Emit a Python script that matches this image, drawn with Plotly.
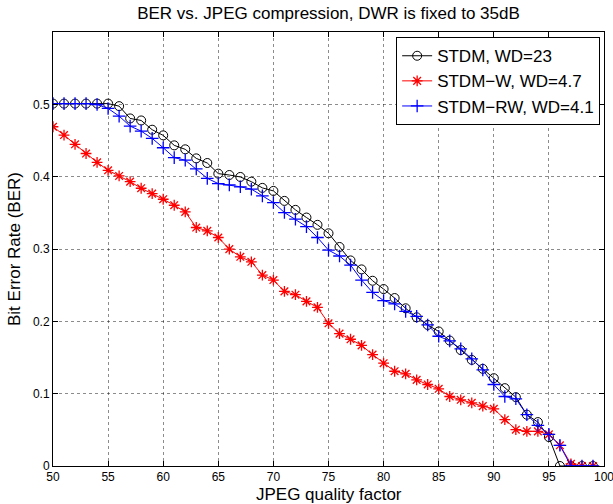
import plotly.graph_objects as go

quality = list(range(50, 100))

ber_stdm = [0.501, 0.501, 0.501, 0.501, 0.501, 0.501, 0.4975, 0.4805, 0.4777, 0.4649,
            0.4571, 0.4433, 0.4378, 0.4253, 0.4189, 0.4042, 0.4023, 0.3996, 0.3931, 0.3845,
            0.3803, 0.3665, 0.3541, 0.3435, 0.3334, 0.3217, 0.3028, 0.2842, 0.2718, 0.2561,
            0.2446, 0.2322, 0.2180, 0.2056, 0.1950, 0.1860, 0.1734, 0.1603, 0.1467, 0.1343,
            0.1214, 0.1076, 0.0952, 0.0709, 0.0607, 0.0400, 0.0, 0.0, 0.0, 0.0]

ber_stdm_w = [0.469, 0.4575, 0.4447, 0.432, 0.4198, 0.4088, 0.401, 0.3931, 0.384, 0.3766,
              0.3688, 0.3605, 0.3513, 0.3297, 0.3251, 0.3159, 0.2998, 0.2892, 0.2823, 0.2640,
              0.2571, 0.2414, 0.2368, 0.2276, 0.2193, 0.1973, 0.1830, 0.1752, 0.1668, 0.1541,
              0.1421, 0.1310, 0.1274, 0.1191, 0.1127, 0.1067, 0.0961, 0.0915, 0.0874, 0.0828,
              0.0791, 0.0640, 0.0502, 0.0479, 0.0479, 0.0437, 0.0286, 0.003, 0.0, 0.0]

ber_stdm_rw = [0.501, 0.501, 0.501, 0.501, 0.4998, 0.4943, 0.4837, 0.4699, 0.463, 0.4529,
               0.4400, 0.4263, 0.4228, 0.4108, 0.3977, 0.3904, 0.3886, 0.3860, 0.3828, 0.3734,
               0.3642, 0.3504, 0.3412, 0.3310, 0.3159, 0.2984, 0.2903, 0.2777, 0.2571, 0.2400,
               0.2286, 0.2240, 0.2138, 0.2069, 0.1950, 0.1794, 0.1730, 0.1619, 0.1481, 0.1329,
               0.1127, 0.0961, 0.0929, 0.0709, 0.0561, 0.0437, 0.0286, 0.0, 0.0, 0.0]

x_ticks = [50, 55, 60, 65, 70, 75, 80, 85, 90, 95, 100]
y_ticks = [0, 0.1, 0.2, 0.3, 0.4, 0.5]
y_tick_text = ["0", "0.1", "0.2", "0.3", "0.4", "0.5"]

FONT = "Liberation Sans, Arial, Helvetica, sans-serif"
W, H = 613, 504

fig = go.Figure()
fig.add_trace(go.Scatter(
    x=quality, y=ber_stdm, mode="lines+markers", name="STDM, WD=23",
    line=dict(color="black", width=1),
    marker=dict(symbol="circle-open", size=9, color="black", line=dict(width=1))))
fig.add_trace(go.Scatter(
    x=quality, y=ber_stdm_w, mode="lines+markers", name="STDM\u2212W, WD=4.7",
    line=dict(color="red", width=1),
    marker=dict(symbol="asterisk-open", size=9, color="red", line=dict(width=1.3, color="red"))))
fig.add_trace(go.Scatter(
    x=quality, y=ber_stdm_rw, mode="lines+markers", name="STDM\u2212RW, WD=4.1",
    line=dict(color="blue", width=1),
    marker=dict(symbol="cross-thin-open", size=9, color="blue", line=dict(width=1.3, color="blue"))))

axis_common = dict(
    showline=True, linecolor="black", linewidth=1, mirror="allticks",
    ticks="inside", ticklen=5, tickcolor="black",
    showgrid=True, gridcolor="rgba(0,0,0,0.45)", griddash="dot", gridwidth=1,
    zeroline=False, tickfont=dict(family=FONT, size=12, color="black"),
    automargin=False, ticklabeloverflow="allow",
)

fig.update_xaxes(range=[50, 100], tickvals=x_ticks, **axis_common)
fig.update_yaxes(range=[0, 0.6], tickvals=y_ticks, ticktext=y_tick_text, **axis_common)

fig.update_layout(
    width=W, height=H,
    margin=dict(l=53, r=9, t=32, b=38, autoexpand=False),
    paper_bgcolor="white", plot_bgcolor="white",
    title=dict(text="BER vs. JPEG compression, DWR is fixed to 35dB",
               font=dict(family=FONT, size=17, color="black"),
               x=0.5, xref="paper", xanchor="center",
               y=1 - 13 / H, yref="container", yanchor="middle"),
    legend=dict(x=0.993, y=0.988, xanchor="right", yanchor="top",
                bgcolor="white", bordercolor="black", borderwidth=1,
                font=dict(family=FONT, size=17, color="black"),
                tracegroupgap=0, itemwidth=30,
                entrywidth=185, entrywidthmode="pixels"),
    showlegend=True,
    annotations=[
        dict(text="JPEG quality factor", xref="paper", yref="paper",
             x=0.5, y=-(494 - 466) / 434, xanchor="center", yanchor="middle",
             showarrow=False, font=dict(family=FONT, size=17, color="black")),
        dict(text="Bit Error Rate (BER)", xref="paper", yref="paper",
             x=-(53 - 14) / 551, y=0.5, xanchor="center", yanchor="middle",
             textangle=-90, showarrow=False, font=dict(family=FONT, size=17, color="black")),
    ],
)

fig.write_html("out.html",
               config={"displayModeBar": False},
               post_script="document.body.style.margin='0';document.body.style.overflow='hidden';")
